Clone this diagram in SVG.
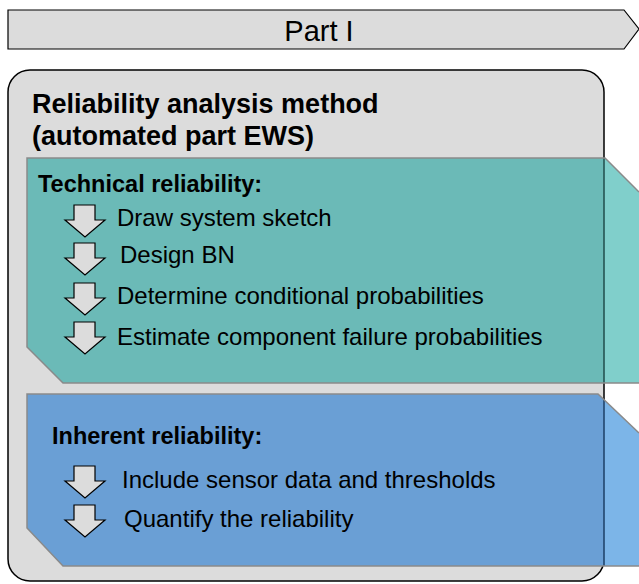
<svg xmlns="http://www.w3.org/2000/svg" xmlns:xlink="http://www.w3.org/1999/xlink" width="639" height="584" viewBox="0 0 639 584">
<style>
.t{font-family:"Liberation Sans",Arial,sans-serif;fill:#000}
.item{font-size:24px}
.head{font-size:23.5px;font-weight:bold}
.title{font-size:27px;font-weight:bold}
.edge{fill:none;stroke:#8a8a8a;stroke-width:1.5}
.arrow{fill:#dcdcdc;stroke:#000;stroke-width:1.2;stroke-linejoin:miter}
</style>
<defs>
<polygon id="arr" class="arrow" points="9,0 30,0 30,15 40,15 20,32 0,15 9,15"/>
</defs>
<rect width="639" height="584" fill="#ffffff"/>
<g id="banner">
<polygon points="8,10 624,10 639,29 624,49 8,49" fill="#dcdcdc" stroke="#000" stroke-width="1.2"/>
<text class="t" x="319" y="41" font-size="29" text-anchor="middle">Part I</text>
</g>
<g id="method">
<rect x="8" y="70" width="596" height="511" rx="22" ry="22" fill="#dcdcdc" stroke="#000" stroke-width="1.5"/>
<text class="t title" x="32" y="113">Reliability analysis method</text>
<text class="t title" x="32" y="145">(automated part EWS)</text>
</g>
<g id="technical">
<polygon points="27,158 605,158 639,192 639,383 63,383 27,347" fill="#80cfcb"/>
<polygon points="27,158 604,158 604,383 63,383 27,347" fill="#6bbab7"/>
<line x1="604" y1="158" x2="604" y2="383" stroke="#1f4d4b" stroke-width="1.5"/>
<polyline class="edge" points="639,192 605,158 27,158 27,347 63,383 639,383"/>
<text class="t head" x="38" y="192">Technical reliability:</text>
<use xlink:href="#arr" x="65" y="205"/>
<text class="t item" x="117" y="226">Draw system sketch</text>
<use xlink:href="#arr" x="65" y="243"/>
<text class="t item" x="120" y="263">Design BN</text>
<use xlink:href="#arr" x="65" y="283"/>
<text class="t item" x="117" y="304">Determine conditional probabilities</text>
<use xlink:href="#arr" x="65" y="322"/>
<text class="t item" x="117" y="345">Estimate component failure probabilities</text>
</g>
<g id="inherent">
<polygon points="27,394 598,394 639,433 639,566 63,566 27,528" fill="#7cb5e8"/>
<polygon points="27,394 598,394 604,400 604,566 63,566 27,528" fill="#6a9fd5"/>
<line x1="604" y1="400" x2="604" y2="566" stroke="#1d3f66" stroke-width="1.5"/>
<polyline class="edge" points="639,433 598,394 27,394 27,528 63,566 639,566"/>
<text class="t head" x="52" y="444">Inherent reliability:</text>
<use xlink:href="#arr" x="65" y="466"/>
<text class="t item" x="122" y="488">Include sensor data and thresholds</text>
<use xlink:href="#arr" x="65" y="505"/>
<text class="t item" x="124" y="527">Quantify the reliability</text>
</g>
</svg>
